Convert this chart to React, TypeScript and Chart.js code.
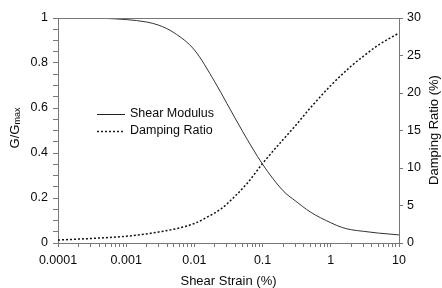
import React, { useEffect, useRef } from "react";
import { Chart, registerables } from "chart.js";

Chart.register(...registerables);

const strain = [0.0001, 0.0003, 0.0005, 0.001, 0.002, 0.003, 0.005, 0.01, 0.02, 0.03, 0.05, 0.1, 0.2, 0.3, 0.5, 1, 1.5, 2, 3, 5, 10];
const shearModulus = [1.0, 1.0, 0.998, 0.993, 0.982, 0.968, 0.935, 0.858, 0.715, 0.62, 0.5, 0.35, 0.232, 0.188, 0.138, 0.09, 0.068, 0.059, 0.052, 0.044, 0.036];

const dampStrain = [0.0001, 0.0003, 0.001, 0.0024, 0.006, 0.01, 0.015, 0.025, 0.04, 0.06, 0.1, 0.2, 0.3, 0.5, 1, 2, 3, 5, 10];
const dampingRatio = [0.4, 0.6, 0.9, 1.33, 2.0, 2.6, 3.4, 4.6, 6.3, 8.0, 10.6, 13.8, 15.6, 18, 21, 23.6, 24.9, 26.4, 28];

const xTitle = "Shear Strain (%)";
const yLeftTitle = "G/G";
const yLeftSub = "max";
const yRightTitle = "Damping Ratio (%)";
const legendLabels = ["Shear Modulus", "Damping Ratio"];

const FONT = "'Liberation Sans', Arial, sans-serif";
const AXIS = "#777";
const TEXT = "#0a0a0a";

export default function App() {
  const ref = useRef<HTMLCanvasElement>(null);
  useEffect(() => {
    document.body.style.margin = "0";
    const ctx = ref.current!.getContext("2d")!;
    const overlay = {
      id: "overlay",
      afterDraw(chart: any) {
        const c = chart.ctx;
        const a = chart.chartArea;
        c.save();
        // top border
        c.strokeStyle = AXIS;
        c.lineWidth = 1;
        c.beginPath();
        c.moveTo(a.left, a.top + 0.5);
        c.lineTo(a.right, a.top + 0.5);
        c.stroke();
        c.fillStyle = TEXT;
        // x title
        c.font = `13px ${FONT}`;
        c.textAlign = "center";
        c.textBaseline = "middle";
        c.fillText(xTitle, (a.left + a.right) / 2, 281);
        // left title with subscript
        c.save();
        c.translate(15, 128);
        c.rotate(-Math.PI / 2);
        c.font = `13px ${FONT}`;
        const w1 = c.measureText(yLeftTitle).width;
        c.font = `9px ${FONT}`;
        const w2 = c.measureText(yLeftSub).width;
        const start = -(w1 + w2) / 2;
        c.textAlign = "left";
        c.font = `13px ${FONT}`;
        c.fillText(yLeftTitle, start, 0);
        c.font = `9px ${FONT}`;
        c.fillText(yLeftSub, start + w1, 3);
        c.restore();
        // right title
        c.save();
        c.translate(434, 130);
        c.rotate(-Math.PI / 2);
        c.font = `13px ${FONT}`;
        c.textAlign = "center";
        c.fillText(yRightTitle, 0, 0);
        c.restore();
        // legend
        c.strokeStyle = "#222";
        c.lineWidth = 1;
        c.beginPath();
        c.moveTo(97, 114.5);
        c.lineTo(125, 114.5);
        c.stroke();
        c.setLineDash([2, 2]);
        c.lineWidth = 1.5;
        c.beginPath();
        c.moveTo(97, 131.5);
        c.lineTo(125, 131.5);
        c.stroke();
        c.setLineDash([]);
        c.font = `12.5px ${FONT}`;
        c.textAlign = "left";
        c.fillText(legendLabels[0], 130, 114);
        c.fillText(legendLabels[1], 130, 131);
        c.restore();
      },
    };
    const chart = new Chart(ctx, {
      type: "line",
      data: {
        datasets: [
          {
            label: legendLabels[0],
            data: strain.map((x, i) => ({ x, y: shearModulus[i] })),
            borderColor: "#333",
            borderWidth: 1,
            pointRadius: 0,
            cubicInterpolationMode: "monotone",
            yAxisID: "y",
          },
          {
            label: legendLabels[1],
            data: dampStrain.map((x, i) => ({ x, y: dampingRatio[i] })),
            borderColor: "#111",
            borderWidth: 1.5,
            borderDash: [2, 2],
            pointRadius: 0,
            cubicInterpolationMode: "monotone",
            yAxisID: "y2",
          },
        ],
      },
      options: {
        animation: false,
        responsive: false,
        layout: { padding: { top: 18, left: 0, right: 0, bottom: 0 } },
        plugins: { legend: { display: false }, tooltip: { enabled: false } },
        scales: {
          x: {
            type: "logarithmic",
            min: 0.0001,
            max: 10,
            afterBuildTicks: (scale: any) => {
              const t: any[] = [];
              for (let e = -4; e <= 1; e++) {
                for (let m = 1; m <= 9; m++) {
                  const v = m * Math.pow(10, e);
                  if (v > 10.0001) break;
                  t.push({ value: v, major: m === 1 });
                }
              }
              scale.ticks = t;
            },
            afterFit: (scale: any) => {
              scale.height = 45;
            },
            ticks: {
              autoSkip: false,
              maxRotation: 0,
              minRotation: 0,
              padding: 6,
              color: TEXT,
              font: { family: FONT, size: 12.5 },
              callback: (v: any) => {
                const l = Math.log10(Number(v));
                if (Math.abs(l - Math.round(l)) < 1e-6) return String(Number(Number(v).toPrecision(3)));
                return "";
              },
            },
            grid: { display: true, drawOnChartArea: false, drawTicks: true, tickLength: 4, color: AXIS },
            border: { display: true, color: AXIS },
          },
          y: {
            position: "left",
            min: 0,
            max: 1,
            afterFit: (scale: any) => {
              scale.width = 58;
            },
            ticks: {
              stepSize: 0.05,
              autoSkip: false,
              padding: 5,
              color: TEXT,
              font: { family: FONT, size: 12.5 },
              callback: (v: any) => {
                const n = Math.round(Number(v) * 20);
                if (n % 4 === 0) return String(n / 20);
                return "";
              },
            },
            grid: { display: true, drawOnChartArea: false, drawTicks: true, tickLength: 5, color: AXIS },
            border: { display: true, color: AXIS },
          },
          y2: {
            position: "right",
            min: 0,
            max: 30,
            afterFit: (scale: any) => {
              scale.width = 43;
            },
            ticks: {
              stepSize: 5,
              padding: 4,
              color: TEXT,
              font: { family: FONT, size: 12.5 },
            },
            grid: { display: true, drawOnChartArea: false, drawTicks: true, tickLength: 4, color: AXIS },
            border: { display: true, color: AXIS },
          },
        },
      },
      plugins: [overlay],
    } as any);
    return () => chart.destroy();
  }, []);
  return <canvas ref={ref} width={442} height={288} style={{ display: "block" }} />;
}
